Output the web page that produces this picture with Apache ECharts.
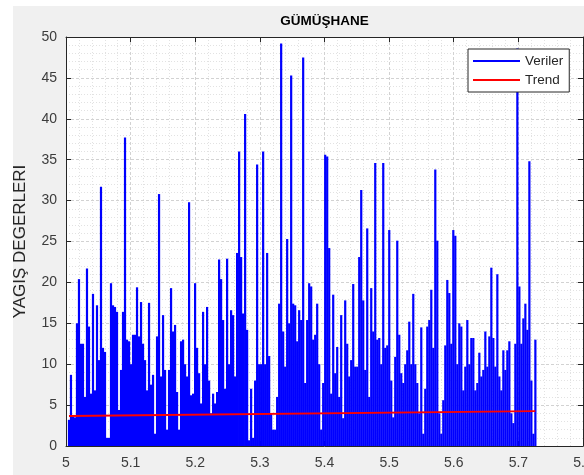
<!DOCTYPE html>
<html>
<head>
<meta charset="utf-8">
<script src="https://cdn.jsdelivr.net/npm/echarts@6/dist/echarts.min.js"></script>
<style>
  html, body { margin: 0; padding: 0; background: #ffffff; width: 584px; height: 475px; overflow: hidden; }
  #chart { position: absolute; left: 13px; top: 6px; width: 571px; height: 469px; background: #f0f0f0; }
</style>
</head>
<body>
<div id="chart"></div>
<script>
// Daily precipitation, regularly spaced along the x axis (one value per sample step)
const rainfall = [
  3.2, 8.7, 3.6, 3.5, 15, 20.4, 12.5, 12.5, 6, 21.7,
  14.6, 6.4, 18.6, 6.8, 17.2, 10.5, 31.7, 12, 11.5, 1,
  1, 19.9, 17.2, 17, 16.4, 4.4, 9.3, 16.4, 37.7, 13,
  12.8, 10, 13.6, 13.6, 19.4, 13.4, 17.6, 12.5, 10.5, 6.8,
  17.5, 7.5, 8.7, 1.5, 13.4, 30.8, 8.5, 16, 9.3, 2,
  9.3, 19.3, 14, 14.8, 6.6, 2, 12.8, 13, 10, 8.5,
  29.8,
  6.2, 6.4, 19.9, 12, 8.9, 5.2, 16.4, 10, 17, 8,
  4, 6.4, 5.2, 6.6, 22.8, 20.4, 15.4, 7, 22.9, 10,
  16.6, 16, 8.5, 23.6, 36, 23.1, 16.2, 40.6, 14.2, 0.7,
  7, 1, 8, 34.4, 10, 10, 36, 10, 23.6, 11,
  4, 2, 2, 6, 17.4, 49.2, 14, 9.7, 25.3, 15,
  45.3, 17.4, 17.2, 12.8, 16.6, 15.4, 47.5, 7.7, 15.4, 19.9,
  19.5, 13, 13.6, 17.4, 10, 2, 7.7, 35.6, 35.4, 24.2,
  6.4, 18.5, 8.9, 12.1, 6, 16, 3.4, 17.8, 12.5, 8.5,
  10.5, 19.8, 9.7, 9.7, 23.1, 31.3, 17.8, 9.3, 26.6, 6,
  19.3, 14, 34.6, 13, 13.2, 10, 34.6, 12, 12.3, 26.4,
  8, 3.5, 10.9, 25.1, 13.6, 8.9, 7.7, 10, 11.7, 15.2,
  10, 18.6, 10, 7.7, 4, 14.5, 1.5, 7, 14.6, 15.4,
  19.1, 12, 33.8, 25.1, 4, 1.5, 5.6, 12.3, 20.3, 18.7,
  12.5, 26.4, 25.7, 10, 15, 14.6, 6.8, 9.7, 15.4, 10,
  13.2, 13.2, 6.8, 7.7, 11.4, 8.5, 9.3, 14, 9.7, 13.4,
  21.8, 13.2, 9.7, 21, 8.5, 6.8, 11.7, 9.3, 11.7, 12.8,
  4, 2.8, 12.5, 48.6, 19.5, 12.5, 15.6, 17.4, 14.2, 34.8,
  8, 1.5, 13
];
// First and last sample positions on the x axis
const sampleSpan = [5.0046, 5.7263];
// Linear trend values at the first and last sample
const trendEnds = [3.67, 4.27];

const xRange = [5, 5.8];
const yRange = [0, 50];
const xStep = 0.1;
const yStep = 5;
const seriesNames = ['Veriler', 'Trend'];
const titleText = 'GÜMÜŞHANE';
const yTitle = 'YAĞIŞ DEĞERLERİ';

const step = (sampleSpan[1] - sampleSpan[0]) / (rainfall.length - 1);
const rainPoints = rainfall.map((v, i) => [sampleSpan[0] + i * step, v]);
const trendPoints = [[sampleSpan[0], trendEnds[0]], [sampleSpan[1], trendEnds[1]]];

const FONT = '"Liberation Sans", Arial, Helvetica, sans-serif';
const AXIS_COLOR = '#262626';
const LABEL_COLOR = '#3c3c3c';

const majorGrid = { show: true, lineStyle: { color: '#d2d2d2', width: 1, type: [3, 2] } };
const minorGrid = { show: true, lineStyle: { color: '#e2e2e2', width: 1, type: [1, 2] } };
const tickIn = { show: true, inside: true, length: 5, lineStyle: { color: AXIS_COLOR, width: 1 } };
const axisLine = { show: true, onZero: false, lineStyle: { color: AXIS_COLOR, width: 1 } };

const chart = echarts.init(document.getElementById('chart'), null, { renderer: 'canvas' });

chart.setOption({
  animation: false,
  backgroundColor: '#f0f0f0',
  grid: {
    left: 53, top: 31, right: 1, bottom: 29,
    outerBoundsMode: 'none', containLabel: false,
    show: true, backgroundColor: '#ffffff', borderWidth: 0
  },
  xAxis: [
    {
      type: 'value', position: 'bottom',
      min: xRange[0], max: xRange[1], interval: xStep,
      axisLine: axisLine, axisTick: tickIn,
      minorTick: { show: false, splitNumber: 5 },
      splitLine: majorGrid, minorSplitLine: minorGrid,
      axisLabel: {
        color: LABEL_COLOR, fontFamily: FONT, fontSize: 14, margin: 10,
        hideOverlap: false,
        formatter: v => String(+v.toFixed(1))
      }
    },
    {
      type: 'value', position: 'top',
      min: xRange[0], max: xRange[1], interval: xStep,
      axisLine: axisLine, axisTick: tickIn,
      axisLabel: { show: false }, splitLine: { show: false }
    }
  ],
  yAxis: [
    {
      type: 'value', position: 'left',
      min: yRange[0], max: yRange[1], interval: yStep,
      axisLine: axisLine, axisTick: tickIn,
      minorTick: { show: false, splitNumber: 5 },
      splitLine: majorGrid, minorSplitLine: minorGrid,
      axisLabel: { color: LABEL_COLOR, fontFamily: FONT, fontSize: 14, margin: 9 }
    },
    {
      type: 'value', position: 'right',
      min: yRange[0], max: yRange[1], interval: yStep,
      axisLine: axisLine, axisTick: tickIn,
      axisLabel: { show: false }, splitLine: { show: false }
    }
  ],
  legend: {
    orient: 'vertical',
    left: 455, top: 43,
    padding: [5, 6, 5, 5],
    itemGap: 5,
    itemWidth: 47, itemHeight: 2,
    backgroundColor: '#ffffff',
    borderColor: AXIS_COLOR, borderWidth: 1,
    textStyle: { fontFamily: FONT, fontSize: 13.5, color: AXIS_COLOR },
    data: [
      { name: seriesNames[0], icon: 'rect', itemStyle: { color: '#0000ff' } },
      { name: seriesNames[1], icon: 'rect', itemStyle: { color: '#ff0000' } }
    ]
  },
  graphic: [
    {
      type: 'text', x: 311.5, y: 15, z: 10,
      style: {
        text: titleText, fill: '#000000',
        font: 'bold 13.5px ' + FONT,
        align: 'center', verticalAlign: 'middle'
      }
    },
    {
      type: 'text', x: 7, y: 235.5, rotation: Math.PI / 2, z: 10,
      style: {
        text: yTitle, fill: AXIS_COLOR,
        font: '17px ' + FONT,
        align: 'center', verticalAlign: 'middle'
      }
    }
  ],
  series: [
    {
      name: seriesNames[0], type: 'bar',
      data: rainPoints,
      barWidth: 2.2,
      itemStyle: { color: '#0000ff' },
      z: 2
    },
    {
      name: seriesNames[1], type: 'line',
      data: trendPoints,
      showSymbol: false, symbol: 'none',
      lineStyle: { color: '#ff0000', width: 1.8 },
      itemStyle: { color: '#ff0000' },
      z: 3
    }
  ]
});
</script>
</body>
</html>
